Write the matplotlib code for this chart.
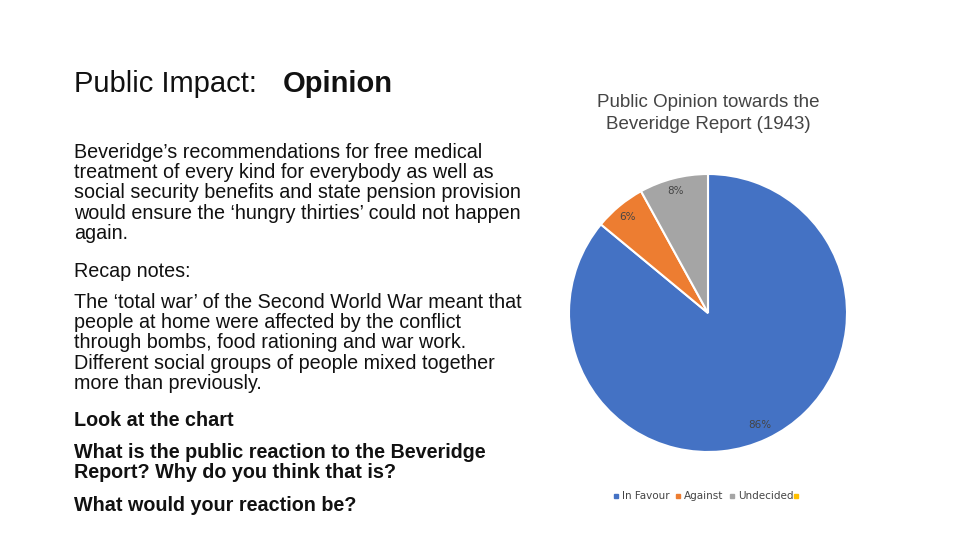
import matplotlib
matplotlib.use("Agg")
import matplotlib.pyplot as plt

labels = ["In Favour", "Against", "Undecided", ""]
values = [86, 6, 8, 0]
colors = ["#4472c4", "#ed7d31", "#a5a5a5", "#ffc000"]
pct_text = ["86%", "6%", "8%"]

fig = plt.figure(figsize=(9.6, 5.4), dpi=100)
fig.patch.set_facecolor("white")
W, H = 960, 540

def t(x, y, s, size=14.2, weight="normal", **kw):
    fig.text(x / W, 1 - y / H, s, fontsize=size, fontweight=weight,
             family="Liberation Sans", va="top", ha="left", color="#111111", **kw)

t(74, 70, "Public Impact:", size=21)
t(283, 70, "Opinion", size=21, weight="bold")
t(74, 143, "Beveridge\u2019s recommendations for free medical\ntreatment of every kind for everybody as well as\n"
  "social security benefits and state pension provision\nwould ensure the \u2018hungry thirties\u2019 could not happen\nagain.",
  linespacing=1.08)
t(74, 262, "Recap notes:")
t(74, 293, "The \u2018total war\u2019 of the Second World War meant that\npeople at home were affected by the conflict\n"
  "through bombs, food rationing and war work.\nDifferent social groups of people mixed together\nmore than previously.",
  linespacing=1.08)
t(74, 411, "Look at the chart", weight="bold")
t(74, 443, "What is the public reaction to the Beveridge\nReport? Why do you think that is?", weight="bold", linespacing=1.08)
t(74, 496, "What would your reaction be?", weight="bold")

fig.text(708 / W, 1 - 94 / H, "Public Opinion towards the\nBeveridge Report (1943)", fontsize=13.5,
         family="Liberation Sans", color="#444444", ha="center", va="top", linespacing=1.4)

r = 139
ax = fig.add_axes([(708 - r) / W, (H - 313 - r) / H, 2 * r / W, 2 * r / H])
wedges, _ = ax.pie(values[:3], colors=colors[:3], startangle=90, counterclock=False,
                   wedgeprops=dict(edgecolor="white", linewidth=1.5))
ax.set_aspect("equal")
ax.set_xlim(-1, 1); ax.set_ylim(-1, 1)

for (px, py), s in zip([(760, 425), (627, 217), (676, 191)], pct_text):
    fig.text(px / W, 1 - py / H, s, fontsize=7.5, color="#444444", ha="center", va="center")

lx = [616, 678, 732, 796]
for x, lab, c in zip(lx, labels, colors):
    fig.patches.append(plt.Rectangle(((x - 2) / W, 1 - 498 / H), 4 / W, 4 / H,
                                     transform=fig.transFigure, color=c, figure=fig))
    fig.text((x + 6) / W, 1 - 496 / H, lab, fontsize=7.5, color="#444444", va="center")

fig.savefig("out.png", dpi=100, facecolor="white")
